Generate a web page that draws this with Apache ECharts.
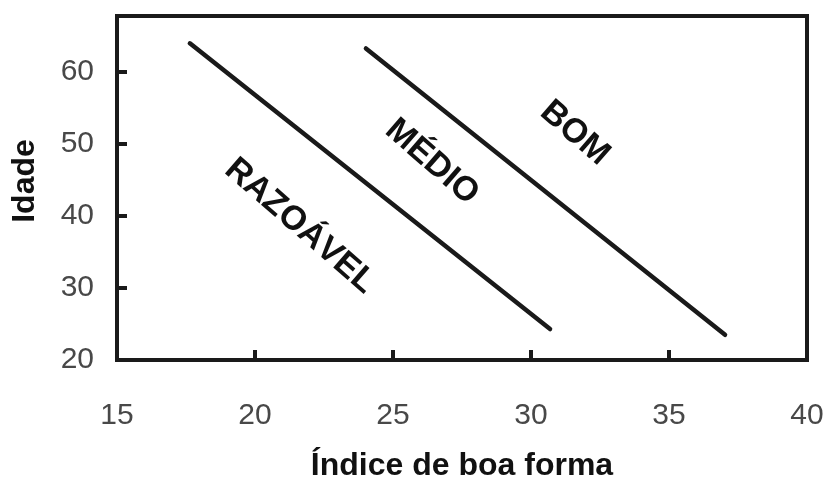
<!DOCTYPE html>
<html>
<head>
<meta charset="utf-8">
<script src="https://cdn.jsdelivr.net/npm/echarts@6/dist/echarts.min.js"></script>
<style>
html,body{margin:0;padding:0;background:#fff;}
#c{width:831px;height:487px;}
</style>
</head>
<body>
<div id="c"></div>
<script>
// Eixos
const xTickLabels = [15, 20, 25, 30, 35, 40];
const xTickMarks = [20, 25, 30, 35];
const yTickLabels = [20, 30, 40, 50, 60];
const yTickMarks = [30, 40, 50, 60];

// Linhas de fronteira (Índice de boa forma, Idade)
const fronteira1X = [17.64, 30.69];
const fronteira1Y = [64.0, 24.3];
const fronteira2X = [24.02, 37.03];
const fronteira2Y = [63.3, 23.5];

// Rótulos das zonas
const rotulos = ['RAZOÁVEL', 'MÉDIO', 'BOM'];
const rotulosX = [21.63, 26.41, 31.59];
const rotulosY = [38.6, 47.5, 51.5];

const FONT = '"Liberation Sans", Arial, sans-serif';

function pairs(xs, ys) { return xs.map((x, i) => [x, ys[i]]); }

const chart = echarts.init(document.getElementById('c'), null, { renderer: 'canvas' });

chart.setOption({
  animation: false,
  backgroundColor: '#ffffff',
  grid: {
    left: 117, right: 24, top: 16, bottom: 127,
    show: true, borderWidth: 4, borderColor: '#1a1a1a', backgroundColor: 'transparent'
  },
  xAxis: {
    type: 'value', min: 15, max: 40,
    name: 'Índice de boa forma', nameLocation: 'middle', nameGap: 90,
    nameTextStyle: { fontFamily: FONT, fontWeight: 'bold', fontSize: 32, color: '#111' },
    axisLine: { show: false },
    splitLine: { show: false },
    axisTick: { show: true, inside: true, length: 10, customValues: xTickMarks,
      lineStyle: { color: '#1a1a1a', width: 4 } },
    axisLabel: { customValues: xTickLabels, margin: 41, fontFamily: FONT, fontSize: 30, color: '#484848' }
  },
  yAxis: {
    type: 'value', min: 20, max: 67.8,
    name: 'Idade', nameLocation: 'middle', nameGap: 76,
    nameTextStyle: { fontFamily: FONT, fontWeight: 'bold', fontSize: 32, color: '#111', padding: [0, 0, 0, 14] },
    axisLine: { show: false },
    splitLine: { show: false },
    axisTick: { show: true, inside: true, length: 10, customValues: yTickMarks,
      lineStyle: { color: '#1a1a1a', width: 4 } },
    axisLabel: { customValues: yTickLabels, margin: 23, fontFamily: FONT, fontSize: 30, color: '#484848' }
  },
  series: [
    {
      type: 'line', data: pairs(fronteira1X, fronteira1Y), symbol: 'none',
      lineStyle: { color: '#1a1a1a', width: 4.5, cap: 'round' }
    },
    {
      type: 'line', data: pairs(fronteira2X, fronteira2Y), symbol: 'none',
      lineStyle: { color: '#1a1a1a', width: 4.5, cap: 'round' }
    },
    {
      type: 'scatter', symbolSize: 0,
      itemStyle: { opacity: 1, color: '#111111' },
      data: rotulos.map((t, i) => ({ value: [rotulosX[i], rotulosY[i]], name: t })),
      label: {
        show: true, position: 'inside', rotate: -41, opacity: 1,
        formatter: p => p.name,
        fontFamily: FONT, fontWeight: 'bold', fontSize: 34, color: '#111111',
        textBorderWidth: 0, textShadowBlur: 0,
        align: 'center', verticalAlign: 'middle'
      }
    }
  ]
});
</script>
</body>
</html>
